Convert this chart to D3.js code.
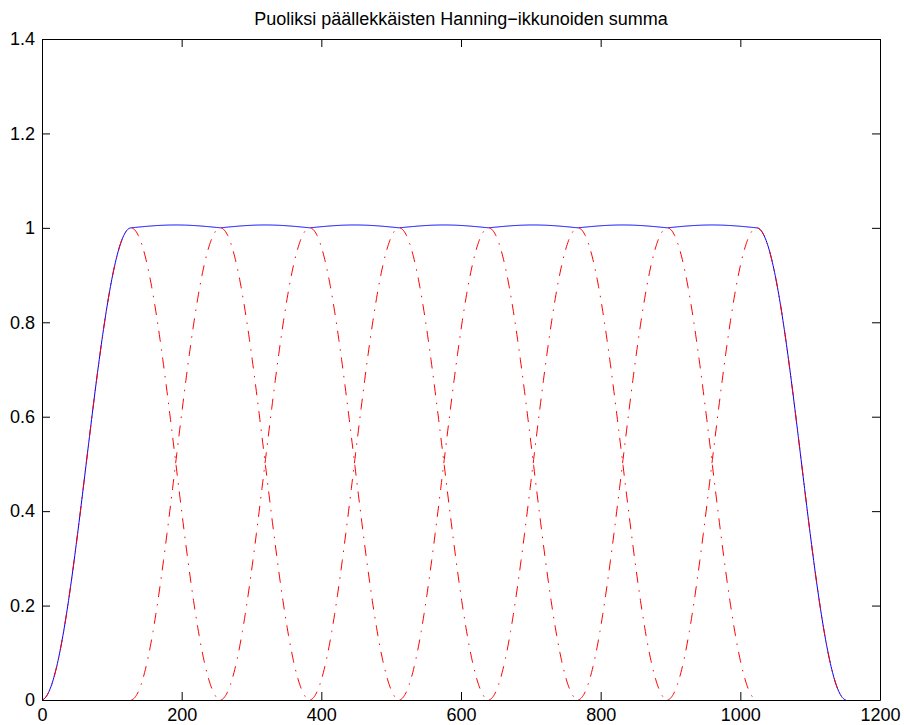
<!DOCTYPE html>
<html>
<head>
<meta charset="utf-8">
<script src="https://cdn.jsdelivr.net/npm/d3@7"></script>
<style>
  html, body { margin: 0; padding: 0; background: #fff; }
  svg { display: block; }
  text { font-family: "Liberation Sans", Arial, Helvetica, sans-serif; }
</style>
</head>
<body>
<svg id="chart" width="904" height="725"></svg>
<script>
// ---- data ----
const titleText = "Puoliksi päällekkäisten Hanning\u2212ikkunoiden summa";
const windowLength = 256;                                   // Hanning window length (samples)
const windowStarts = [0, 128, 256, 384, 512, 640, 768, 896]; // half-overlapping start positions
const xTicks = [0, 200, 400, 600, 800, 1000, 1200];
const yTicks = [0, 0.2, 0.4, 0.6, 0.8, 1, 1.2, 1.4];
const xDomain = [0, 1200];
const yDomain = [0, 1.4];

// ---- layout ----
const padL = 42, padR = 880, padT = 39, padB = 700;
const fontSize = 18;

const svg = d3.select("#chart");
const x = d3.scaleLinear().domain(xDomain).range([padL, padR]);
const y = d3.scaleLinear().domain(yDomain).range([padB, padT]);

// Hanning window values (MATLAB hanning(N): 0.5*(1-cos(2*pi*k/(N+1))), k=1..N)
const hann = d3.range(windowLength).map(k => 0.5 * (1 - Math.cos(2 * Math.PI * (k + 1) / (windowLength + 1))));

const windows = windowStarts.map(s => hann.map((v, k) => [s + k, v]));
const totalLen = windowStarts[windowStarts.length - 1] + windowLength;
const sumVals = d3.range(totalLen).map(n => {
  let s = 0;
  windowStarts.forEach(st => { const k = n - st; if (k >= 0 && k < windowLength) s += hann[k]; });
  return [n, s];
});

const line = d3.line().x(d => x(d[0])).y(d => y(d[1]));

const g = svg.append("g");
// sum (blue, solid)
g.append("path").datum(sumVals)
  .attr("d", line).attr("fill", "none").attr("stroke", "#0000ff").attr("stroke-width", 1);
// individual windows (red dash-dot)
g.selectAll("path.win").data(windows).enter().append("path").attr("class", "win")
  .attr("d", line).attr("fill", "none").attr("stroke", "#ff0000").attr("stroke-width", 1)
  .attr("stroke-dasharray", "11,7.5,1.5,7");

// ---- axes (MATLAB-style box with inward ticks) ----
const fmtY = d => String(+(+d).toFixed(1));
function styleAxis(sel) {
  sel.selectAll(".domain").attr("stroke", "#000").attr("stroke-width", 1);
  sel.selectAll(".tick line").attr("stroke", "#000");
  sel.selectAll("text").attr("font-size", fontSize).attr("fill", "#000")
     .attr("font-family", '"Liberation Sans", Arial, Helvetica, sans-serif');
}
const gx = svg.append("g").attr("transform", `translate(0,${padB})`)
  .call(d3.axisBottom(x).tickValues(xTicks).tickSizeInner(-8).tickSizeOuter(0).tickPadding(8).tickFormat(d3.format("d")));
styleAxis(gx);
const gxt = svg.append("g").attr("transform", `translate(0,${padT})`)
  .call(d3.axisTop(x).tickValues(xTicks).tickSizeInner(-8).tickSizeOuter(0).tickFormat(""));
styleAxis(gxt);
const gy = svg.append("g").attr("transform", `translate(${padL},0)`)
  .call(d3.axisLeft(y).tickValues(yTicks).tickSizeInner(-8).tickSizeOuter(0).tickPadding(7).tickFormat(fmtY));
styleAxis(gy);
const gyr = svg.append("g").attr("transform", `translate(${padR},0)`)
  .call(d3.axisRight(y).tickValues(yTicks).tickSizeInner(-8).tickSizeOuter(0).tickFormat(""));
styleAxis(gyr);

// ---- title ----
svg.append("text").attr("x", (padL + padR) / 2).attr("y", 25)
  .attr("text-anchor", "middle").attr("font-size", fontSize).attr("fill", "#000")
  .text(titleText);
</script>
</body>
</html>
